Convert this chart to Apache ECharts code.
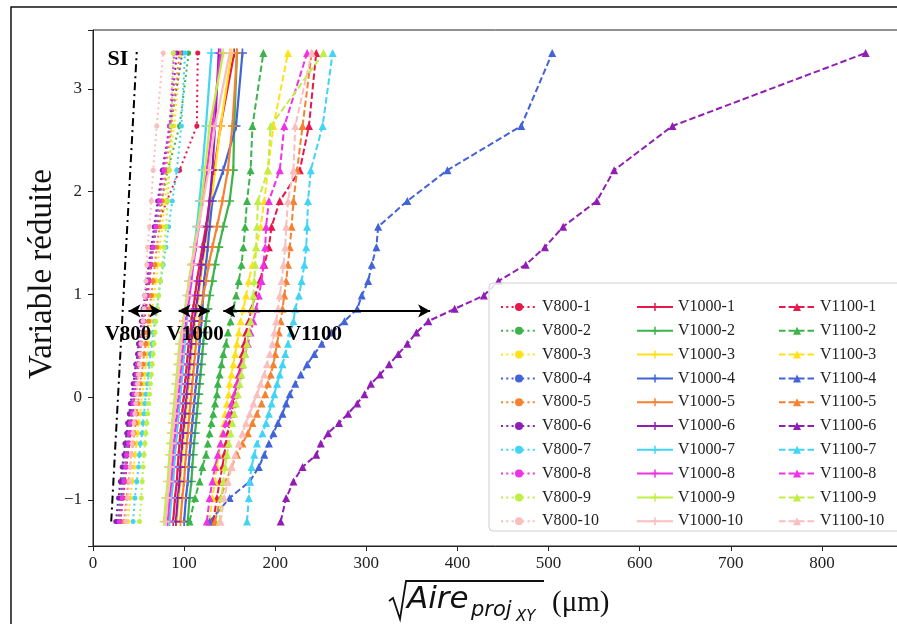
<!DOCTYPE html>
<html>
<head>
<meta charset="utf-8">
<script src="https://cdn.jsdelivr.net/npm/echarts@6/dist/echarts.min.js"></script>
<style>
  html, body { margin: 0; padding: 0; background: #fff; }
  #chart { width: 897px; height: 624px; }
</style>
</head>
<body>
<div id="chart"></div>
<script>
// Gumbel reduced variate of each ranked sample (28 ranks)
const reducedVariate = [-1.21, -0.98, -0.82, -0.68, -0.56, -0.45, -0.35, -0.25, -0.16, -0.06,
  0.03, 0.13, 0.22, 0.32, 0.42, 0.52, 0.63, 0.74, 0.86, 0.99,
  1.13, 1.29, 1.46, 1.66, 1.91, 2.21, 2.64, 3.35];

// sqrt(projected area) in µm, ranked, for each specimen
const v800_1 = [30, 33, 35, 37, 38, 40, 41, 42, 44, 45, 46, 48, 49, 50, 52, 53, 55, 56, 58, 60, 62, 64, 66, 70, 81, 95, 114, 115];
const v800_2 = [27, 30, 32, 33, 35, 36, 38, 39, 40, 42, 43, 45, 46, 47, 49, 50, 52, 54, 56, 58, 60, 63, 66, 70, 75, 82, 95, 105];
const v800_3 = [38, 41, 43, 45, 46, 48, 49, 50, 52, 53, 54, 56, 57, 58, 60, 61, 62, 64, 65, 67, 69, 71, 73, 76, 79, 83, 89, 97];
const v800_4 = [28, 31, 33, 35, 37, 38, 40, 41, 42, 44, 45, 46, 48, 49, 50, 52, 53, 55, 56, 58, 60, 62, 65, 68, 72, 77, 85, 98];
const v800_5 = [34, 37, 39, 41, 42, 44, 45, 47, 48, 49, 51, 52, 53, 55, 56, 58, 59, 61, 62, 64, 66, 68, 70, 73, 76, 80, 86, 95];
const v800_6 = [25, 28, 30, 32, 34, 35, 37, 38, 40, 41, 43, 44, 46, 47, 49, 50, 52, 53, 55, 57, 59, 61, 64, 67, 71, 76, 84, 92];
const v800_7 = [44, 46, 48, 50, 51, 52, 54, 55, 56, 57, 58, 60, 61, 62, 63, 65, 66, 68, 70, 72, 74, 77, 80, 83, 87, 92, 97, 101];
const v800_8 = [29, 32, 34, 36, 37, 39, 40, 41, 43, 44, 45, 47, 48, 49, 51, 52, 54, 55, 57, 59, 61, 63, 66, 69, 73, 78, 84, 89];
const v800_9 = [51, 53, 54, 55, 56, 57, 58, 59, 60, 61, 62, 63, 64, 65, 66, 67, 68, 69, 71, 72, 74, 76, 78, 80, 82, 84, 86, 88];
const v800_10 = [36, 38, 40, 41, 42, 43, 44, 45, 46, 47, 48, 49, 50, 51, 52, 53, 54, 55, 56, 57, 58, 59, 60, 62, 64, 66, 70, 77];

const v1000_1 = [88, 90, 92, 93, 94, 95, 96, 97, 98, 99, 100, 101, 102, 103, 104, 105, 107, 108, 110, 112, 114, 117, 120, 124, 128, 133, 140, 155];
const v1000_2 = [104, 106, 108, 109, 110, 111, 112, 113, 114, 115, 116, 117, 118, 119, 120, 121, 122, 124, 126, 128, 131, 134, 138, 143, 150, 154, 155, 158];
const v1000_3 = [92, 94, 96, 97, 98, 99, 100, 101, 102, 103, 104, 105, 106, 107, 108, 109, 110, 112, 114, 116, 118, 120, 123, 126, 130, 134, 140, 152];
const v1000_4 = [100, 102, 104, 105, 106, 107, 108, 109, 110, 111, 112, 113, 114, 115, 116, 117, 118, 119, 120, 121, 122, 124, 126, 128, 131, 143, 157, 164];
const v1000_5 = [96, 98, 100, 101, 102, 103, 104, 105, 106, 107, 108, 109, 110, 111, 112, 113, 115, 117, 119, 121, 124, 127, 131, 136, 142, 148, 153, 158];
const v1000_6 = [91, 93, 95, 96, 97, 98, 99, 100, 101, 102, 103, 104, 105, 106, 107, 108, 109, 111, 113, 115, 117, 119, 122, 125, 128, 131, 134, 138];
const v1000_7 = [84, 86, 88, 89, 90, 91, 92, 93, 94, 95, 96, 97, 98, 99, 100, 101, 102, 103, 104, 105, 107, 109, 111, 114, 117, 120, 124, 130];
const v1000_8 = [82, 84, 86, 87, 88, 89, 90, 91, 92, 93, 94, 95, 96, 97, 98, 99, 100, 102, 104, 106, 108, 110, 113, 116, 120, 125, 131, 140];
const v1000_9 = [78, 80, 82, 83, 84, 85, 86, 87, 88, 89, 90, 91, 92, 93, 94, 95, 97, 99, 101, 103, 105, 108, 111, 115, 119, 123, 128, 143];
const v1000_10 = [80, 82, 84, 85, 86, 87, 88, 89, 90, 91, 92, 93, 94, 95, 96, 97, 98, 100, 102, 104, 106, 109, 112, 116, 121, 127, 134, 150];

const v1100_1 = [132, 136, 139, 142, 144, 146, 148, 150, 152, 154, 156, 158, 160, 162, 164, 166, 168, 171, 174, 178, 183, 188, 193, 196, 205, 227, 237, 245];
const v1100_2 = [106, 112, 117, 120, 124, 126, 128, 130, 132, 134, 136, 137, 139, 141, 143, 146, 148, 151, 154, 157, 160, 163, 165, 167, 169, 173, 175, 187];
const v1100_3 = [128, 131, 134, 136, 138, 140, 142, 144, 145, 147, 149, 150, 152, 154, 156, 158, 160, 162, 165, 168, 171, 175, 179, 184, 188, 192, 198, 214];
const v1100_4 = [128, 150, 172, 182, 188, 193, 198, 203, 208, 212, 216, 222, 228, 235, 243, 251, 262, 276, 290, 295, 302, 306, 311, 313, 345, 389, 470, 504];
const v1100_5 = [134, 140, 146, 152, 158, 164, 170, 175, 180, 185, 189, 192, 195, 198, 200, 202, 204, 206, 208, 210, 212, 214, 216, 218, 220, 224, 230, 240];
const v1100_6 = [206, 212, 220, 230, 245, 250, 258, 270, 280, 290, 298, 305, 315, 325, 335, 345, 355, 368, 397, 429, 445, 475, 496, 516, 553, 572, 636, 848];
const v1100_7 = [169, 171, 172, 174, 177, 180, 186, 190, 193, 196, 199, 202, 205, 208, 211, 214, 217, 220, 222, 226, 229, 232, 234, 235, 236, 239, 252, 263];
const v1100_8 = [125, 128, 131, 134, 137, 140, 143, 146, 149, 152, 155, 158, 161, 164, 167, 170, 173, 176, 179, 182, 185, 187, 189, 190, 193, 205, 210, 235];
const v1100_9 = [139, 141, 143, 145, 147, 149, 151, 153, 155, 157, 159, 161, 163, 165, 167, 169, 171, 173, 175, 176, 177, 178, 179, 180, 181, 192, 195, 253];
const v1100_10 = [140, 144, 148, 152, 156, 160, 164, 168, 172, 176, 180, 184, 188, 191, 194, 197, 199, 201, 203, 205, 207, 209, 211, 212, 214, 220, 222, 240];

// SI reference line (two end points)
const siX = [20, 48];
const siY = [-1.21, 3.36];

// Spread of each temperature group at the arrow level
const spreadY = 0.84;
const spreadV800 = [39, 75];
const spreadV1000 = [94, 128];
const spreadV1100 = [143, 370];

const palette = ['#e6194b', '#3cb44b', '#ffe119', '#4363d8', '#f58231',
                 '#911eb4', '#42d4f4', '#f032e6', '#bfef45', '#fabebe'];

const SERIF = '"Liberation Serif", "Times New Roman", serif';

const groups = [
  { prefix: 'V800', values: [v800_1, v800_2, v800_3, v800_4, v800_5, v800_6, v800_7, v800_8, v800_9, v800_10],
    lineType: [2, 3.3], width: 2, symbol: 'circle', symbolSize: 5 },
  { prefix: 'V1000', values: [v1000_1, v1000_2, v1000_3, v1000_4, v1000_5, v1000_6, v1000_7, v1000_8, v1000_9, v1000_10],
    lineType: 'solid', width: 2.2,
    symbol: 'path://M-1.3,-7 L1.3,-7 L1.3,-1.3 L7,-1.3 L7,1.3 L1.3,1.3 L1.3,7 L-1.3,7 L-1.3,1.3 L-7,1.3 L-7,-1.3 L-1.3,-1.3 Z',
    symbolSize: 9 },
  { prefix: 'V1100', values: [v1100_1, v1100_2, v1100_3, v1100_4, v1100_5, v1100_6, v1100_7, v1100_8, v1100_9, v1100_10],
    lineType: [6.5, 3], width: 2, symbol: 'triangle', symbolSize: 8 }
];

const series = [];
const legendNames = [];
groups.forEach((g) => {
  const names = [];
  g.values.forEach((vals, i) => {
    const name = g.prefix + '-' + (i + 1);
    names.push(name);
    series.push({
      name: name,
      type: 'line',
      data: vals.map((x, k) => [x, reducedVariate[k]]),
      symbol: g.symbol,
      symbolSize: g.symbolSize,
      color: palette[i],
      itemStyle: { color: palette[i] },
      lineStyle: { color: palette[i], width: g.width, type: g.lineType },
      z: 2,
      silent: true,
      animation: false
    });
  });
  legendNames.push(names);
});

// SI line and the spread arrows
series.push({
  name: 'SI',
  type: 'line',
  data: siX.map((x, k) => [x, siY[k]]),
  symbol: 'none',
  lineStyle: { color: '#000', width: 2, type: [8, 4, 2, 4] },
  z: 3,
  silent: true,
  animation: false,
  markLine: {
    silent: true,
    animation: false,
    symbol: ['arrow', 'arrow'],
    symbolSize: [10, 12],
    lineStyle: { color: '#000', width: 2.2, type: 'solid' },
    label: { show: false },
    emphasis: { disabled: true },
    data: [spreadV800, spreadV1000, spreadV1100].map(r => [
      { coord: [r[0], spreadY] }, { coord: [r[1], spreadY] }
    ])
  }
});

const legendLeft = [495, 631, 773];
const legends = legendNames.map((names, c) => ({
  data: names,
  orient: 'vertical',
  left: legendLeft[c],
  top: 294,
  itemWidth: 36,
  itemHeight: 10,
  itemGap: 7.8,
  selectedMode: false,
  textStyle: { fontFamily: SERIF, fontSize: 16, color: '#222' },
  z: 5
}));

const chart = echarts.init(document.getElementById('chart'), null, { renderer: 'canvas' });

const fmtTick = v => Number.isInteger(v) ? String(v).replace('-', '\u2212') : '';

chart.setOption({
  animation: false,
  backgroundColor: '#fff',
  grid: { left: 93, top: 30, height: 516, width: 820, outerBoundsMode: 'none', containLabel: false,
          show: true, borderColor: '#222', borderWidth: 1 },
  xAxis: {
    type: 'value', min: 0, max: 900, interval: 100,
    axisLine: { show: true, onZero: false, lineStyle: { color: '#222', width: 1 } },
    axisTick: { show: true, length: 5, lineStyle: { color: '#222' } },
    splitLine: { show: false },
    axisLabel: { fontFamily: SERIF, fontSize: 17, color: '#222', margin: 9, formatter: fmtTick }
  },
  yAxis: {
    type: 'value', min: -1.448, max: 3.574,
    axisLine: { show: true, onZero: false, lineStyle: { color: '#222', width: 1 } },
    axisTick: { show: true, length: 5, lineStyle: { color: '#222' } },
    splitLine: { show: false },
    axisLabel: { fontFamily: SERIF, fontSize: 17, color: '#222', margin: 11, formatter: fmtTick }
  },
  legend: legends,
  series: series
});

// annotations placed in data coordinates
const toPx = (x, y) => chart.convertToPixel({ gridIndex: 0 }, [x, y]);
const annotations = [
  { text: 'SI', x: 27.4, y: 3.29, size: 22 },
  { text: 'V800', x: 38.4, y: 0.61, size: 21 },
  { text: 'V1000', x: 112, y: 0.61, size: 21 },
  { text: 'V1100', x: 242.6, y: 0.61, size: 21 }
];

const graphics = [
  // page frame
  { type: 'rect', shape: { x: 11, y: 7, width: 1000, height: 1000 }, style: { fill: 'none', stroke: '#111', lineWidth: 1.5 }, z: 10, silent: true },
  // legend frame
  { type: 'rect', shape: { x: 489, y: 283, width: 430, height: 248, r: 4 }, style: { fill: 'rgba(255,255,255,0.85)', stroke: '#d0d0d0', lineWidth: 1 }, z: 3, silent: true },
  // y axis title
  { type: 'text', x: 42, y: 274, rotation: Math.PI / 2, style: { text: 'Variable réduite', font: '33px ' + SERIF, fill: '#111', align: 'center', verticalAlign: 'middle' }, z: 10, silent: true },
  // x axis title: sqrt(Aire_projXY) (µm)
  { type: 'polyline', shape: { points: [[389, 601], [393, 598], [400, 619], [406, 581], [544, 581]] }, style: { stroke: '#111', lineWidth: 1.8, fill: 'none' }, z: 10, silent: true },
  { type: 'text', x: 407, y: 600, style: { text: 'Aire', font: 'italic 31px "DejaVu Sans"', fill: '#111', verticalAlign: 'middle' }, z: 10, silent: true },
  { type: 'text', x: 471, y: 611, style: { text: 'proj', font: 'italic 21px "DejaVu Sans"', fill: '#111', verticalAlign: 'middle' }, z: 10, silent: true },
  { type: 'text', x: 516, y: 617, style: { text: 'XY', font: 'italic 15px "DejaVu Sans"', fill: '#111', verticalAlign: 'middle' }, z: 10, silent: true },
  { type: 'text', x: 552, y: 603, style: { text: '(\u03bcm)', font: '29px ' + SERIF, fill: '#111', verticalAlign: 'middle' }, z: 10, silent: true }
];

annotations.forEach(a => {
  const p = toPx(a.x, a.y);
  graphics.push({
    type: 'text', x: p[0], y: p[1],
    style: { text: a.text, font: 'bold ' + a.size + 'px ' + SERIF, fill: '#000', align: 'center', verticalAlign: 'middle' },
    z: 10, silent: true
  });
});

chart.setOption({ graphic: graphics });
</script>
</body>
</html>
